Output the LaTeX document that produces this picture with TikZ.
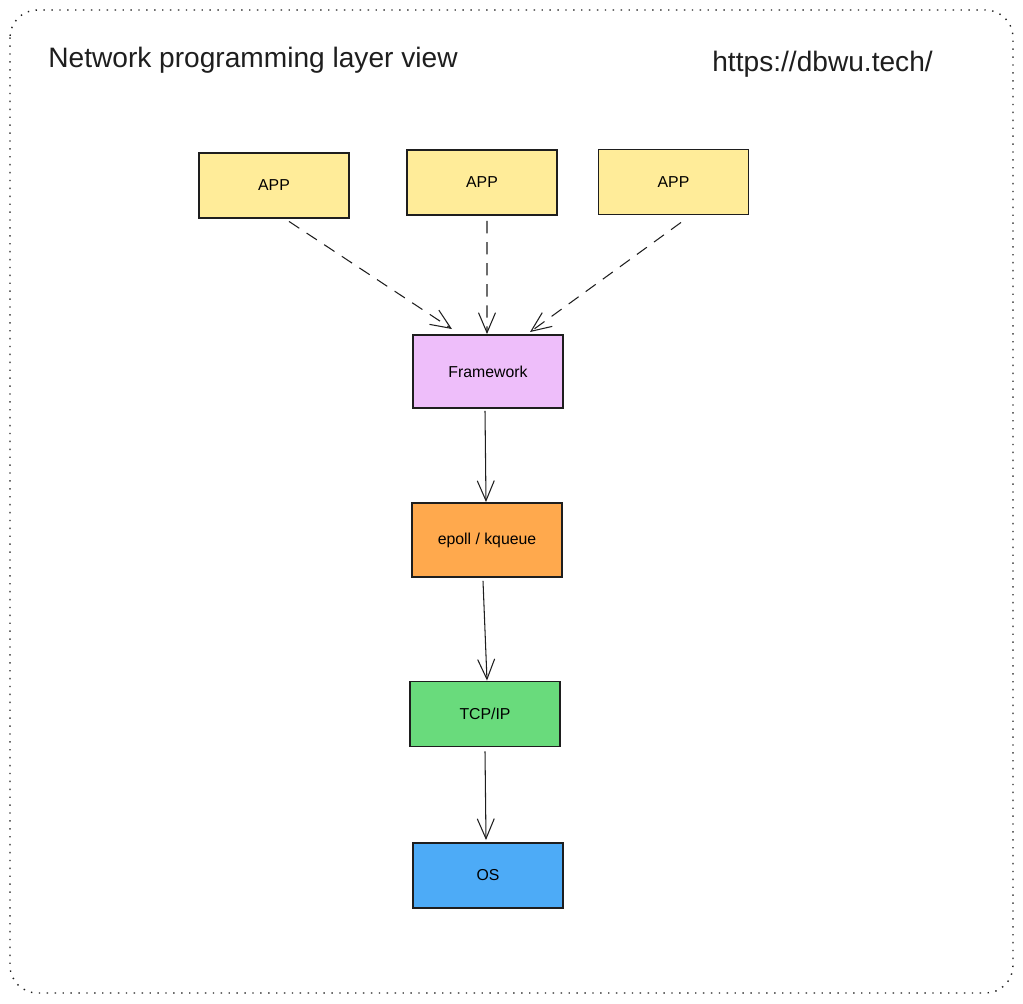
\documentclass[tikz,border=0pt]{standalone}
\usepackage{fontspec}
\setmainfont{Liberation Sans}
\usetikzlibrary{arrows.meta}
\definecolor{appyellow}{HTML}{FFEC99}
\definecolor{fwpurple}{HTML}{EEBEFA}
\definecolor{pollorange}{HTML}{FFA94D}
\definecolor{tcpgreen}{HTML}{69DB7C}
\definecolor{osblue}{HTML}{4DABF7}
\definecolor{inkline}{HTML}{1E1E1E}
\tikzset{
  layer/.style={draw=inkline,line width=1.1pt,minimum width=3cm,minimum height=1.3cm,
    inner sep=0pt,font=\fontsize{9}{11}\selectfont},
  flow/.style={draw=inkline,line width=0.6pt,-{Straight Barb[length=0.4cm,width=0.34cm]}},
  callflow/.style={flow,dash pattern=on 7pt off 5pt}
}
\begin{document}
\begin{tikzpicture}[x=0.02cm,y=-0.02cm]
\useasboundingbox (0,0) rectangle (1023,1003);
%\draw[gray,very thin] (0,0) grid[step=100] (1023,1003);
\draw[inkline,line width=0.8pt,dash pattern=on 0.8pt off 3.7pt,rounded corners=0.55cm] (10,10) rectangle (1013,993);
\node[anchor=west,inner sep=0pt,text=inkline,font=\fontsize{16}{19}\selectfont] (title) at (48,60) {Network programming layer view};
\node[anchor=west,inner sep=0pt,text=inkline,font=\fontsize{16}{19}\selectfont] (site) at (712,64) {https://dbwu.tech/};
\node[layer,fill=appyellow] (app1) at (274,185.5) {APP};
\node[layer,fill=appyellow] (app2) at (482,182.5) {APP};
\node[layer,fill=appyellow] (app3) at (673.5,182) {APP};
\node[layer,fill=fwpurple,minimum height=1.46cm] (fw) at (488,371.5) {Framework};
\node[layer,fill=pollorange,minimum height=1.48cm] (poll) at (487,540) {epoll / kqueue};
\node[layer,fill=tcpgreen] (tcp) at (485,714) {TCP/IP};
\node[layer,fill=osblue] (os) at (488,875.5) {OS};
\draw[callflow] ([xshift=0.3cm,yshift=-0.05cm]app1.south) -- ([xshift=-0.72cm,yshift=0.1cm]fw.north);
\draw[callflow] ([xshift=0.1cm,yshift=-0.1cm]app2.south) -- ([xshift=-0.02cm]fw.north);
\draw[callflow] ([xshift=0.15cm,yshift=-0.14cm]app3.south) -- ([xshift=0.84cm,yshift=0.04cm]fw.north);
\draw[flow] ([xshift=-0.06cm,yshift=-0.04cm]fw.south) -- ([xshift=-0.02cm]poll.north);
\draw[flow] ([xshift=-0.08cm,yshift=-0.06cm]poll.south) -- ([xshift=0.04cm]tcp.north);
\draw[flow] ([yshift=-0.08cm]tcp.south) -- ([xshift=-0.04cm,yshift=0.04cm]os.north);
\end{tikzpicture}
\end{document}
